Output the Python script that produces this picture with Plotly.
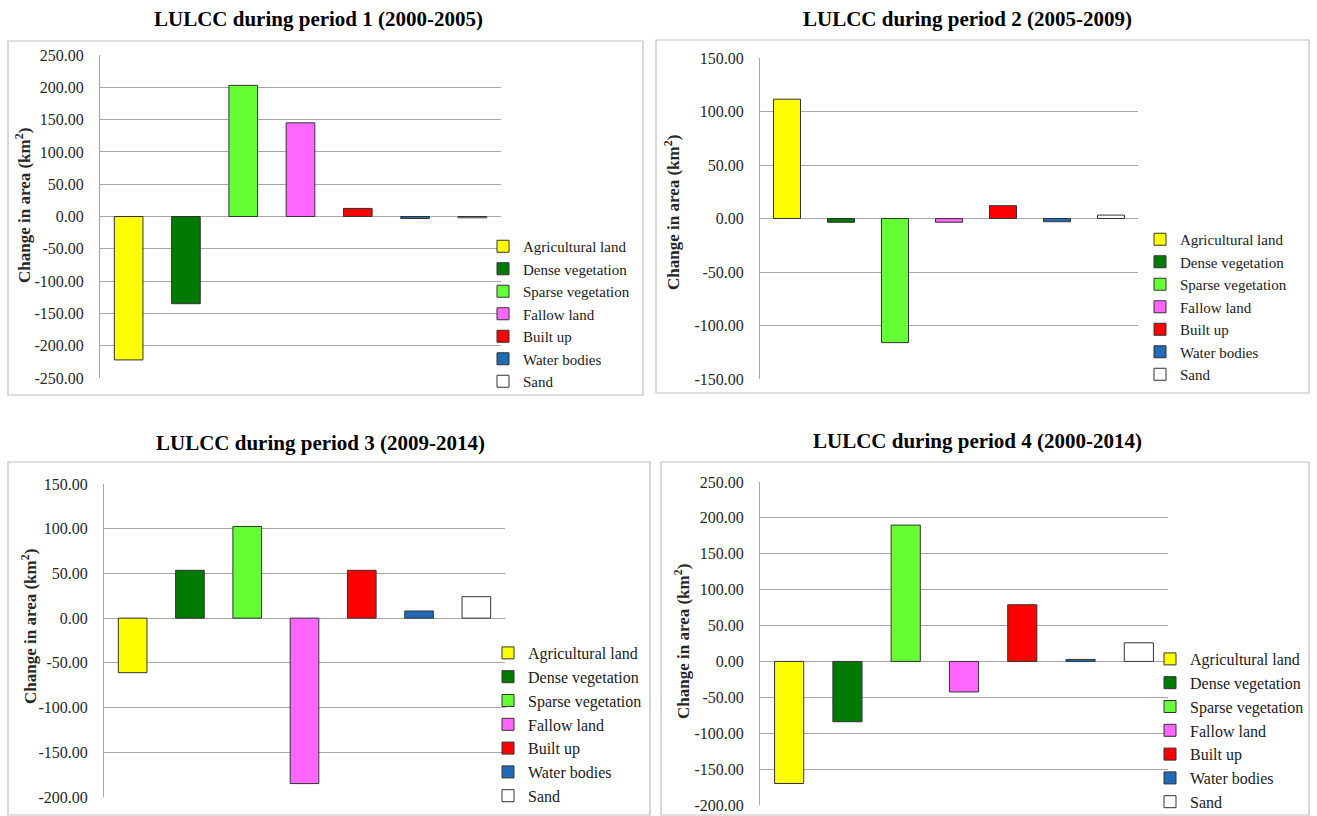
import plotly.graph_objects as go

W, H = 1317, 816

categories = ["Agricultural land", "Dense vegetation", "Sparse vegetation",
              "Fallow land", "Built up", "Water bodies", "Sand"]
colors = ["#FFFF00", "#007A00", "#66FF33", "#FF66FF", "#FF0000", "#1F6BB5", "#FFFFFF"]

period1 = [-222.0, -135.0, 203.0, 145.0, 12.5, -3.0, -2.0]
period2 = [111.5, -3.5, -116.0, -3.5, 12.0, -3.0, 3.2]
period3 = [-61.0, 53.5, 102.5, -185.0, 53.5, 8.0, 24.0]
period4 = [-170.0, -84.0, 190.0, -42.5, 79.0, 2.8, 26.0]

titles = ["LULCC during period 1 (2000-2005)", "LULCC during period 2 (2005-2009)",
          "LULCC during period 3 (2009-2014)", "LULCC during period 4 (2000-2014)"]
yranges = [(-250, 250), (-150, 150), (-200, 150), (-200, 250)]

# layout in pixels
panels = [
    dict(data=period1, plot=(100, 501, 55, 378), frame=(8, 643, 41, 395), title=(318, 19),
         ytitle=(23, 206), legend=(483, 230), lfont=15),
    dict(data=period2, plot=(760, 1138, 58, 379), frame=(656, 1309, 40, 393), title=(967, 19),
         ytitle=(672, 213), legend=(1140, 223), lfont=15),
    dict(data=period3, plot=(104, 505, 484, 797), frame=(8, 650, 462, 815), title=(320, 443),
         ytitle=(29, 627), legend=(488, 636), lfont=16),
    dict(data=period4, plot=(760, 1168, 482, 805), frame=(661, 1309, 462, 815), title=(977, 441),
         ytitle=(682, 642), legend=(1150, 642), lfont=16),
]

SERIF = "Liberation Serif, Times New Roman, serif"

def px(x):
    return x / W

def py(y):
    return 1 - y / H

fig = go.Figure()
layout = dict(width=W, height=H, margin=dict(l=0, r=0, t=0, b=0, autoexpand=False),
              paper_bgcolor="white", plot_bgcolor="white", barmode="overlay",
              showlegend=True, annotations=[], shapes=[])

for i, p in enumerate(panels):
    k = "" if i == 0 else str(i + 1)
    xa, ya = "x" + k, "y" + k
    leg = "legend" if i == 0 else "legend" + str(i + 1)
    for j, cat in enumerate(categories):
        fig.add_trace(go.Bar(
            x=[cat], y=[p["data"][j]], name=cat, width=0.5,
            marker=dict(color=colors[j], line=dict(color="#333333", width=1)),
            xaxis=xa, yaxis=ya, legend=leg, legendgroup=f"{i}_{j}",
            hovertemplate="%{x}: %{y:.2f}<extra></extra>"))
    x0, x1, y0, y1 = p["plot"]
    lo, hi = yranges[i]
    tv = list(range(lo, hi + 1, 50))
    layout["xaxis" + k] = dict(domain=[px(x0), px(x1)], anchor=ya, showticklabels=False,
                               showgrid=False, zeroline=False, showline=False,
                               categoryorder="array", categoryarray=categories,
                               range=[-0.5, 6.5], fixedrange=True)
    layout["yaxis" + k] = dict(domain=[py(y1), py(y0)], anchor=xa, range=[lo, hi],
                               tickvals=tv, ticktext=[f"{v:.2f}" for v in tv],
                               showgrid=True, gridcolor="#A6A6A6", gridwidth=1,
                               zeroline=False, showline=True, linecolor="#A6A6A6",
                               ticks="", ticklabelstandoff=12, automargin=False,
                               tickfont=dict(family=SERIF, size=16, color="#262626"))
    lx, ly = p["legend"]
    layout[leg] = dict(x=px(lx), y=py(ly), xanchor="left", yanchor="top",
                       bgcolor="rgba(0,0,0,0)", tracegroupgap=0, itemwidth=30,
                       font=dict(family=SERIF, size=p["lfont"], color="#1a1a1a"),
                       itemclick=False, itemdoubleclick=False)
    tx, ty = p["title"]
    layout["annotations"].append(dict(text=f"<b>{titles[i]}</b>", x=px(tx), y=py(ty),
                                      xref="paper", yref="paper", showarrow=False,
                                      xanchor="center", yanchor="middle",
                                      font=dict(family=SERIF, size=21, color="black")))
    ax_, ay_ = p["ytitle"]
    layout["annotations"].append(dict(text="<b>Change in area (km<sup>2</sup>)</b>",
                                      x=px(ax_), y=py(ay_), xref="paper", yref="paper",
                                      showarrow=False, textangle=-90,
                                      xanchor="center", yanchor="middle",
                                      font=dict(family=SERIF, size=17, color="#262626")))
    fx0, fx1, fy0, fy1 = p["frame"]
    layout["shapes"].append(dict(type="rect", xref="paper", yref="paper",
                                 x0=px(fx0), x1=px(fx1), y0=py(fy1), y1=py(fy0),
                                 line=dict(color="#BFBFBF", width=1.2), layer="below"))

fig.update_layout(**layout)
fig.write_html("out.html", config={"displayModeBar": False},
               post_script="document.body.style.margin='0';document.body.style.overflow='hidden';")
